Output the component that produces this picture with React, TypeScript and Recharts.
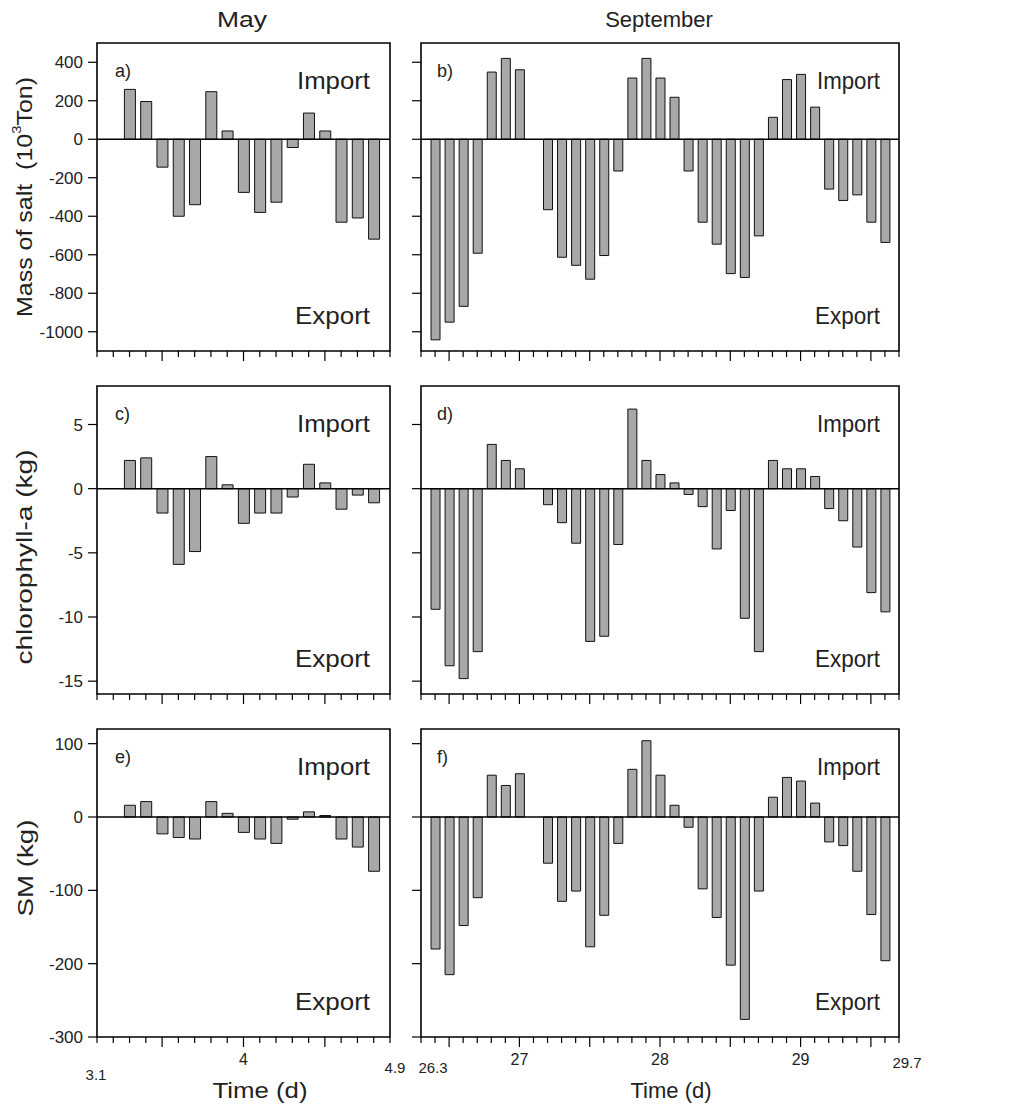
import React from 'react';
import { BarChart, Bar, XAxis, YAxis, ReferenceLine, ReferenceArea } from 'recharts';

// sample times (days)
const mayTimes = [3.3, 3.4, 3.5, 3.6, 3.7, 3.8, 3.9, 4.0, 4.1, 4.2, 4.3, 4.4, 4.5, 4.6, 4.7, 4.8];
const sepTimes = [
  26.4, 26.5, 26.6, 26.7, 26.8, 26.9, 27.0, 27.2, 27.3, 27.4, 27.5, 27.6, 27.7, 27.8, 27.9, 28.0,
  28.1, 28.2, 28.3, 28.4, 28.5, 28.6, 28.7, 28.8, 28.9, 29.0, 29.1, 29.2, 29.3, 29.4, 29.5, 29.6,
];

// mass of salt (10^3 Ton)
const saltMay = [259, 196, -145, -400, -340, 247, 43, -276, -380, -327, -43, 136, 43, -431, -409, -519];
const saltSep = [
  -1042, -950, -868, -592, 349, 420, 361, -366, -613, -655, -727, -604, -165, 318, 420, 318,
  218, -165, -431, -545, -698, -718, -502, 114, 310, 337, 167, -259, -318, -289, -431, -536,
];

// chlorophyll-a (kg)
const chlMay = [2.2, 2.4, -1.9, -5.9, -4.9, 2.5, 0.3, -2.7, -1.9, -1.9, -0.65, 1.9, 0.45, -1.6, -0.5, -1.1];
const chlSep = [
  -9.4, -13.8, -14.8, -12.7, 3.45, 2.2, 1.55, -1.25, -2.65, -4.25, -11.9, -11.5, -4.35, 6.2, 2.2, 1.1,
  0.45, -0.45, -1.4, -4.7, -1.7, -10.1, -12.7, 2.2, 1.55, 1.55, 0.95, -1.55, -2.5, -4.55, -8.1, -9.6,
];

// SM (kg)
const smMay = [16, 21, -23, -28, -30, 21, 5, -21, -30, -36, -3, 7, 2, -30, -41, -74];
const smSep = [
  -180, -215, -148, -110, 57, 43, 59, -63, -115, -101, -177, -134, -36, 65, 104, 57,
  16, -14, -98, -137, -202, -276, -101, 27, 54, 49, 19, -34, -39, -74, -133, -196,
];

const saltTicks = [400, 200, 0, -200, -400, -600, -800, -1000];
const chlTicks = [5, 0, -5, -10, -15];
const smTicks = [100, 0, -100, -200, -300];

const mayTicks = Array.from({ length: 19 }, (_, i) => Math.round((3.1 + i * 0.1) * 10) / 10);
const sepTicks = Array.from({ length: 35 }, (_, i) => Math.round((26.3 + i * 0.1) * 10) / 10);
const mayTickLabels = [4];
const sepTickLabels = [27, 28, 29];
const mayEndLabels = ['3.1', '4.9'];
const sepEndLabels = ['26.3', '29.7'];

const FONT = '"Liberation Sans", Arial, Helvetica, sans-serif';
const ROW_TOPS = [43, 386, 729];
const FRAME_H = 308;

function XTick(props: any) {
  const { x, y, payload, labels, ends, endPos, domain } = props;
  const v = payload.value;
  const major = Math.abs(v * 2 - Math.round(v * 2)) < 1e-6;
  const len = major ? 10 : 6;
  let label = null;
  if (labels && labels.some((l: number) => Math.abs(l - v) < 1e-6)) {
    label = (
      <text x={x} y={y + 28} textAnchor="middle" fontSize={16} fill="#222" fontFamily={FONT}>
        {String(v)}
      </text>
    );
  }
  if (ends && Math.abs(v - domain[0]) < 1e-6) {
    label = (
      <text x={x + endPos[0][0]} y={y + endPos[0][1]} textAnchor="middle" fontSize={15} fill="#222" fontFamily={FONT}>
        {ends[0]}
      </text>
    );
  }
  if (ends && Math.abs(v - domain[1]) < 1e-6) {
    label = (
      <text x={x + endPos[1][0]} y={y + endPos[1][1]} textAnchor="middle" fontSize={15} fill="#222" fontFamily={FONT}>
        {ends[1]}
      </text>
    );
  }
  return (
    <g>
      <line x1={x} x2={x} y1={y} y2={y + len} stroke="#000" strokeWidth={1.2} />
      {label}
    </g>
  );
}

function Panel(props: any) {
  const {
    times, values, xDomain, xTicks, yDomain, yTicks, left, top, width, yAxisWidth,
    rightMargin, showYLabels, bottom, xLabels, endLabels, endPos, barSize,
  } = props;
  const data = times.map((t: number, i: number) => ({ t, v: values[i] }));
  const xh = bottom ? 70 : 20;
  const height = 10 + FRAME_H + xh;
  return (
    <div style={{ position: 'absolute', left, top: top - 10 }}>
      <BarChart
        width={width}
        height={height}
        data={data}
        margin={{ top: 10, right: rightMargin, bottom: 0, left: 0 }}
      >
        <XAxis
          dataKey="t"
          type="number"
          domain={xDomain}
          ticks={xTicks}
          interval={0}
          allowDataOverflow
          axisLine={false}
          tickLine={false}
          tickSize={0}
          tickMargin={0}
          height={xh}
          tick={(p: any) => (
            <XTick
              {...p}
              labels={bottom ? xLabels : null}
              ends={bottom ? endLabels : null}
              endPos={endPos}
              domain={xDomain}
            />
          )}
        />
        <YAxis
          type="number"
          domain={yDomain}
          ticks={yTicks}
          interval={0}
          allowDataOverflow
          width={yAxisWidth}
          axisLine={false}
          tickLine={{ stroke: '#000', strokeWidth: 1.2 }}
          tickSize={9}
          tickMargin={5}
          tick={{ fontSize: 17, fill: '#222', fontFamily: FONT }}
          tickFormatter={showYLabels ? (v: number) => String(v) : () => ''}
        />
        <ReferenceArea
          x1={xDomain[0]}
          x2={xDomain[1]}
          y1={yDomain[0]}
          y2={yDomain[1]}
          fill="none"
          stroke="#000"
          strokeWidth={1.6}
          ifOverflow="visible"
        />
        <ReferenceLine y={0} stroke="#000" strokeWidth={1.5} />
        <Bar
          dataKey="v"
          fill="#a8a8a8"
          stroke="#111"
          strokeWidth={1}
          barSize={barSize}
          isAnimationActive={false}
        />
      </BarChart>
    </div>
  );
}

const rows = [
  { may: saltMay, sep: saltSep, domain: [-1100, 500], ticks: saltTicks, letters: ['a)', 'b)'] },
  { may: chlMay, sep: chlSep, domain: [-16, 8], ticks: chlTicks, letters: ['c)', 'd)'] },
  { may: smMay, sep: smSep, domain: [-300, 120], ticks: smTicks, letters: ['e)', 'f)'] },
];

export default function App() {
  return (
    <div style={{ position: 'absolute', left: 0, top: 0, width: 1011, height: 1109, background: '#fff' }}>
      {rows.map((r, i) => (
        <React.Fragment key={i}>
          <Panel
            times={mayTimes}
            values={r.may}
            xDomain={[3.1, 4.9]}
            xTicks={mayTicks}
            yDomain={r.domain}
            yTicks={r.ticks}
            left={0}
            top={ROW_TOPS[i]}
            width={412}
            yAxisWidth={97}
            rightMargin={22}
            showYLabels
            bottom={i === 2}
            xLabels={mayTickLabels}
            endLabels={mayEndLabels}
            endPos={[[-1, 43], [5, 36]]}
            barSize={11}
          />
          <Panel
            times={sepTimes}
            values={r.sep}
            xDomain={[26.3, 29.7]}
            xTicks={sepTicks}
            yDomain={r.domain}
            yTicks={r.ticks}
            left={400}
            top={ROW_TOPS[i]}
            width={540}
            yAxisWidth={21}
            rightMargin={41}
            showYLabels={false}
            bottom={i === 2}
            xLabels={sepTickLabels}
            endLabels={sepEndLabels}
            endPos={[[12, 36], [8, 31]]}
            barSize={9}
          />
        </React.Fragment>
      ))}
      <svg
        width={1011}
        height={1109}
        style={{ position: 'absolute', left: 0, top: 0, pointerEvents: 'none' }}
        fontFamily={FONT}
        fill="#222"
      >
        <text x={242} y={27} fontSize={22} textAnchor="middle" textLength={50} lengthAdjust="spacingAndGlyphs">May</text>
        <text x={659} y={27} fontSize={22} textAnchor="middle">September</text>
        <text transform="translate(24,197) rotate(-90)" textAnchor="middle" dominantBaseline="central" fontSize={22} textLength={240} lengthAdjust="spacingAndGlyphs">
          Mass of salt{'\u00a0\u00a0'}(10<tspan dy={-8} fontSize={13}>3</tspan><tspan dy={8}>Ton)</tspan>
        </text>
        <text transform="translate(24,557) rotate(-90)" textAnchor="middle" dominantBaseline="central" fontSize={22} textLength={215} lengthAdjust="spacingAndGlyphs">
          chlorophyll-a (kg)
        </text>
        <text transform="translate(25,868) rotate(-90)" textAnchor="middle" dominantBaseline="central" fontSize={22} textLength={97} lengthAdjust="spacingAndGlyphs">
          SM (kg)
        </text>
        <text x={260} y={1098} fontSize={22} textAnchor="middle" textLength={95} lengthAdjust="spacingAndGlyphs">Time (d)</text>
        <text x={671} y={1098} fontSize={22} textAnchor="middle">Time (d)</text>
        {rows.map((r, i) => {
          const t = ROW_TOPS[i];
          return (
            <g key={i}>
              <text x={115} y={t + 34} fontSize={18}>{r.letters[0]}</text>
              <text x={297} y={t + 46} fontSize={23} textLength={73} lengthAdjust="spacingAndGlyphs">Import</text>
              <text x={295} y={t + 281} fontSize={23} textLength={75} lengthAdjust="spacingAndGlyphs">Export</text>
              <text x={437} y={t + 34} fontSize={18}>{r.letters[1]}</text>
              <text x={817} y={t + 46} fontSize={23} textLength={63} lengthAdjust="spacingAndGlyphs">Import</text>
              <text x={815} y={t + 281} fontSize={23} textLength={65} lengthAdjust="spacingAndGlyphs">Export</text>
            </g>
          );
        })}
      </svg>
    </div>
  );
}
